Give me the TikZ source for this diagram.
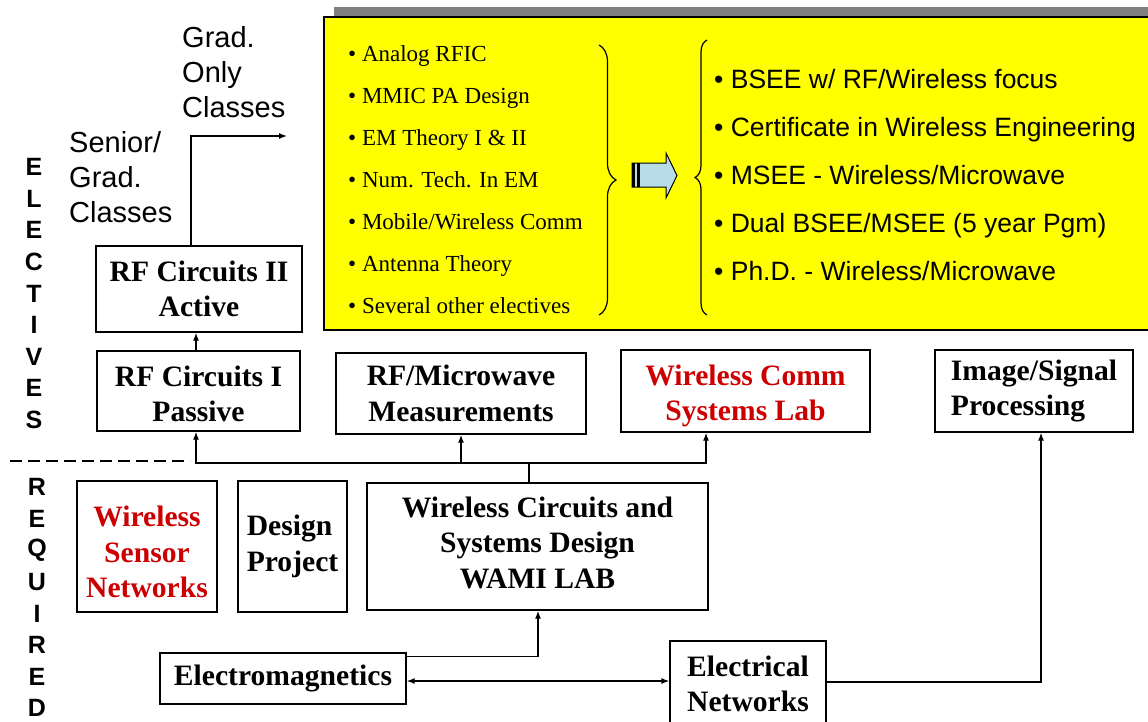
\documentclass[tikz,border=0pt]{standalone}
\usepackage{fontspec}
\setmainfont{Liberation Serif}
\newfontfamily\arial{Liberation Sans}
\usetikzlibrary{arrows.meta,decorations.pathreplacing,calc}
\definecolor{wred}{RGB}{204,0,0}
\definecolor{ablue}{RGB}{183,221,232}
\definecolor{shadowgray}{RGB}{128,128,128}
\definecolor{ybg}{RGB}{255,255,0}
\newcommand\tstrutx[1]{\rule{0pt}{#1}}
\newcommand\bstrutx[1]{\rule[-#1]{0pt}{#1}}
\begin{document}
\begin{tikzpicture}[x=1pt,y=-1pt,
  box/.style={draw, line width=1.3pt, inner sep=0pt, align=center,
    font=\bfseries\fontsize{29.6}{35.5}\selectfont},
  conn/.style={line width=1.3pt, -{Latex[length=8pt,width=6pt]}},
  dconn/.style={line width=1.3pt, {Latex[length=8pt,width=6pt]}-{Latex[length=8pt,width=6pt]}},
  plain/.style={line width=1.3pt},
  lbl/.style={inner sep=0pt, align=left, font=\arial\fontsize{29}{35}\selectfont},
  vlet/.style={inner sep=0pt, font=\arial\bfseries\fontsize{25}{25}\selectfont},
  litem/.style={inner sep=0pt, font=\fontsize{23}{23}\selectfont},
  ritem/.style={inner sep=0pt, font=\arial\fontsize{26.5}{26.5}\selectfont},
  bracestyle/.style={line width=1.2pt, decorate}
]
\useasboundingbox (0,0) rectangle (1148,721);

% yellow panel with shadow
\fill[shadowgray] (334,7) rectangle (1160,320);
\filldraw[fill=ybg, draw=black, line width=1.8pt] (324,17) rectangle (1160,330);

% left list
\foreach \t [count=\i] in {{Analog RFIC},{MMIC PA Design},{EM Theory I \& II},{Num. Tech. In EM},{Mobile/Wireless Comm},{Antenna Theory},{Several other electives}}
  \node[litem, anchor=base west] (li\i) at (348,{61+42*(\i-1)}) {• \t};

% right list
\foreach \t [count=\i] in {{BSEE w/ RF/Wireless focus},{Certificate in Wireless Engineering},{MSEE - Wireless/Microwave},{Dual BSEE/MSEE (5 year Pgm)},{Ph.D. - Wireless/Microwave}}
  \node[ritem, anchor=base west] (ri\i) at (714,{88.5+48*(\i-1)}) {• \t};

% braces
\coordinate (b1t) at (599,45);
\coordinate (b1b) at (599,315);
\draw[bracestyle, decoration={brace, amplitude=17pt}] (b1t) -- (b1b);
\coordinate (b2b) at (707,315);
\coordinate (b2t) at (707,40);
\draw[bracestyle, decoration={brace, amplitude=12pt}] (b2b) -- (b2t);

% block arrow
\filldraw[fill=ablue, draw=black, line width=1pt] (632,163) -- (666,163) -- (666,153) -- (677,175.5) -- (666,198) -- (666,187) -- (632,187) -- cycle;
\fill[black] (632,163) rectangle (635,187);
\fill[black] (637,163) rectangle (639.5,187);

% boxes
\node[box, minimum width=206pt, minimum height=86pt] (rf2) at (199,289) {RF Circuits II\\Active};
\node[box, minimum width=203pt, minimum height=80pt] (rf1) at (198.5,391) {\tstrutx{26pt}RF Circuits I\\Passive};
\node[box, minimum width=250pt, minimum height=81pt] (rfmw) at (461,393.5) {RF/Microwave\\Measurements};
\node[box, text=wred, minimum width=249pt, minimum height=82pt] (wc) at (745.5,391) {\tstrutx{30pt}Wireless Comm\\Systems Lab};
\node[box, align=left, minimum width=198pt, minimum height=82pt] (isp) at (1034,391) {Image/Signal\\Processing};
\node[box, text=wred, minimum width=140pt, minimum height=131pt] (wsn) at (147,546.5) {\tstrutx{32pt}Wireless\\Sensor\\Networks};
\node[box, align=left, minimum width=109pt, minimum height=131pt] (dp) at (292.5,546.5) {Design\\Project};
\node[box, minimum width=341pt, minimum height=127pt] (wami) at (537.5,546.5) {Wireless Circuits and\\Systems Design\\WAMI LAB\bstrutx{8pt}};
\node[box, minimum width=246pt, minimum height=51pt] (em) at (283,678.5) {Electromagnetics};
\node[box, align=left, minimum width=156pt, minimum height=86pt] (en) at (748,684) {Electrical\\Networks};

% labels
\node[lbl, anchor=west] (gradonly) at (182,72) {Grad.\\Only\\Classes};
\node[lbl, anchor=west] (senior) at (69,177) {Senior/\\Grad.\\Classes};

% vertical letters
\foreach \l [count=\i] in {E,L,E,C,T,I,V,E,S}
  \node[vlet] (el\i) at (34,{167+31.6*(\i-1)}) {\l};
\foreach \l [count=\i] in {R,E,Q,U,I,R,E,D}
  \node[vlet] (rq\i) at (37,{487+31.6*(\i-1)}) {\l};

% dashed separator
\coordinate (dl) at (10,461);
\coordinate (dr) at (190,461);
\draw[plain, dash pattern=on 12pt off 6pt] (dl) -- (dr);

% connectors
\coordinate (bus) at (529,463);
\draw[plain] ([xshift=-8.5pt]wami.north) -- (bus);
\draw[conn] (bus) -| ([xshift=-2.5pt]rf1.south);
\draw[conn] (bus) -| (rfmw.south);
\draw[conn] (bus) -| ([xshift=-39.5pt]wc.south);
\draw[conn] ([xshift=-2.5pt]rf1.north) -- ([xshift=-2.5pt]rf1.north |- rf2.south);
\coordinate (gradtip) at (287,136);
\draw[conn] ([xshift=-8pt]rf2.north) |- (gradtip);
\draw[conn] ([yshift=-4pt]em.north east) -| ([xshift=0.5pt]wami.south);
\draw[dconn] ([yshift=-2.5pt]em.east) -- ([yshift=-2.5pt]em.east -| en.west);
\draw[conn] ([yshift=2pt]en.east) -| ([xshift=7pt]isp.south);
\end{tikzpicture}
\end{document}
